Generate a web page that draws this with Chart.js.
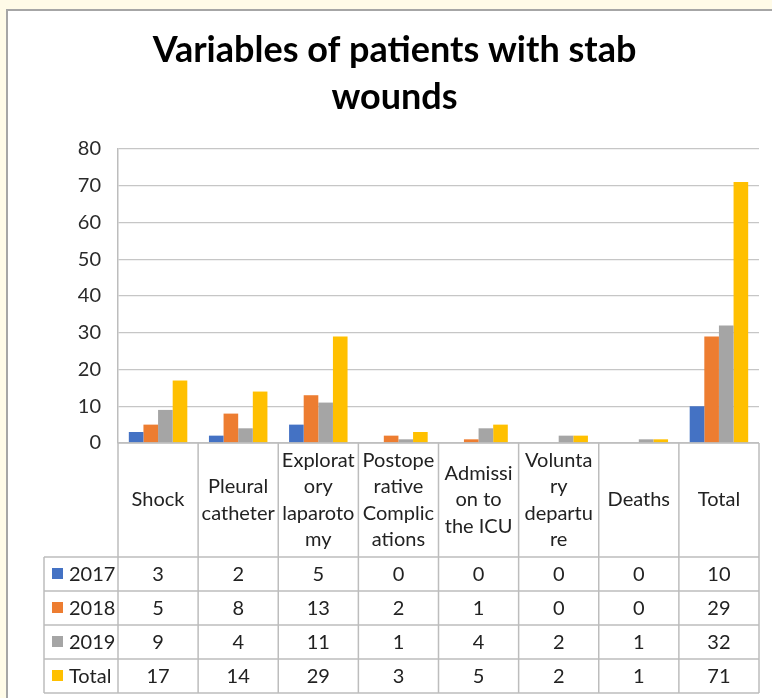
<!DOCTYPE html>
<html>
<head>
<meta charset="utf-8">
<script src="https://cdn.jsdelivr.net/npm/chart.js@4.4.0/dist/chart.umd.min.js"></script>
<style>
  html, body { margin: 0; padding: 0; }
  body { width: 772px; height: 698px; background: #fffbe8; position: relative; overflow: hidden; }
  #frame { position: absolute; left: 6px; top: 9px; width: 790px; height: 710px; background: #fff;
           border-left: 2px solid #a6a6a6; border-top: 2px solid #a6a6a6; }
  #wrap { position: absolute; left: 0; top: 0; width: 772px; height: 698px; }
</style>
</head>
<body>
<div id="frame"></div>
<div id="wrap"><canvas id="myChart" width="772" height="698"></canvas></div>
<script>
// ---------------- data ----------------
var categories = [
  ['Shock'],
  ['Pleural', 'catheter'],
  ['Explorat', 'ory', 'laparoto', 'my'],
  ['Postope', 'rative', 'Complic', 'ations'],
  ['Admissi', 'on to', 'the ICU'],
  ['Volunta', 'ry', 'departu', 're'],
  ['Deaths'],
  ['Total']
];
var seriesNames = ['2017', '2018', '2019', 'Total'];
var values2017 = [3, 2, 5, 0, 0, 0, 0, 10];
var values2018 = [5, 8, 13, 2, 1, 0, 0, 29];
var values2019 = [9, 4, 11, 1, 4, 2, 1, 32];
var valuesTotal = [17, 14, 29, 3, 5, 2, 1, 71];
var colors = ['#4472c4', '#ed7d31', '#a5a5a5', '#ffc000'];

var FONT = 'Lato, "Liberation Sans", sans-serif';
var lineCol = '#bdbdbd';
var textCol = '#222';

// ---------------- data table under the plot ----------------
var dataTable = {
  id: 'dataTable',
  afterDraw: function (chart) {
    var ctx = chart.ctx;
    var x = chart.scales.x;
    var y = chart.scales.y;
    var n = categories.length;
    var w = x.width / n;
    var top = y.bottom;
    var headH = 114, rowH = 34;
    var legLeft = 44;
    var rowsTop = top + headH;
    var bottom = rowsTop + rowH * seriesNames.length;
    var bounds = [];
    for (var i = 0; i <= n; i++) bounds.push(x.getPixelForValue(0) - w / 2 + i * w);

    ctx.save();
    ctx.strokeStyle = lineCol;
    ctx.lineWidth = 1.5;
    ctx.beginPath();
    // top line (axis line)
    ctx.moveTo(bounds[0], top); ctx.lineTo(bounds[n], top);
    // row lines
    for (var r = 0; r <= seriesNames.length; r++) {
      ctx.moveTo(legLeft, rowsTop + r * rowH); ctx.lineTo(bounds[n], rowsTop + r * rowH);
    }
    // column lines
    for (var c = 0; c <= n; c++) {
      ctx.moveTo(bounds[c], top); ctx.lineTo(bounds[c], bottom);
    }
    ctx.moveTo(legLeft, rowsTop); ctx.lineTo(legLeft, bottom);
    ctx.stroke();

    ctx.fillStyle = textCol;
    ctx.font = '20px ' + FONT;
    ctx.textAlign = 'center';
    ctx.textBaseline = 'middle';
    var lh = 26.4;
    categories.forEach(function (lines, i) {
      var cx = x.getPixelForValue(i);
      var y0 = top + headH / 2 - (lines.length - 1) * lh / 2;
      lines.forEach(function (t, k) { ctx.fillText(t, cx, y0 + k * lh); });
    });

    chart.data.datasets.forEach(function (ds, r) {
      var cy = rowsTop + r * rowH + rowH / 2;
      ctx.fillStyle = ds.backgroundColor;
      ctx.fillRect(52, cy - 6, 11, 11);
      ctx.fillStyle = textCol;
      ctx.textAlign = 'left';
      ctx.fillText(ds.label, 69, cy + 1);
      ctx.textAlign = 'center';
      ds.data.forEach(function (v, i) {
        ctx.fillText(String(v), x.getPixelForValue(i), cy + 1);
      });
    });
    ctx.restore();
  }
};

var ctx = document.getElementById('myChart').getContext('2d');
var myChart = new Chart(ctx, {
  type: 'bar',
  data: {
    labels: categories,
    datasets: [
      { label: seriesNames[0], data: values2017, backgroundColor: colors[0] },
      { label: seriesNames[1], data: values2018, backgroundColor: colors[1] },
      { label: seriesNames[2], data: values2019, backgroundColor: colors[2] },
      { label: seriesNames[3], data: valuesTotal, backgroundColor: colors[3] }
    ]
  },
  options: {
    responsive: false,
    animation: false,
    events: [],
    layout: { padding: { left: 30, right: 13, top: 0, bottom: 255 } },
    datasets: { bar: { barPercentage: 1, categoryPercentage: 0.73 } },
    plugins: {
      legend: { display: false },
      tooltip: { enabled: false },
      title: {
        display: true,
        text: ['Variables of patients with stab', 'wounds'],
        color: '#000',
        font: { family: FONT, size: 36, weight: 'bold', lineHeight: '47px' },
        padding: { top: 26.5, bottom: 28.5 }
      }
    },
    scales: {
      x: { display: false },
      y: {
        min: 0,
        max: 80,
        afterFit: function (s) { s.width = 88; },
        ticks: { stepSize: 10, padding: 17, color: '#2a2a2a', font: { family: FONT, size: 20 } },
        grid: { color: '#c6c6c6', lineWidth: 1.2, drawTicks: false },
        border: { display: true, color: lineCol, width: 1.5 }
      }
    }
  },
  plugins: [dataTable]
});
</script>
</body>
</html>
